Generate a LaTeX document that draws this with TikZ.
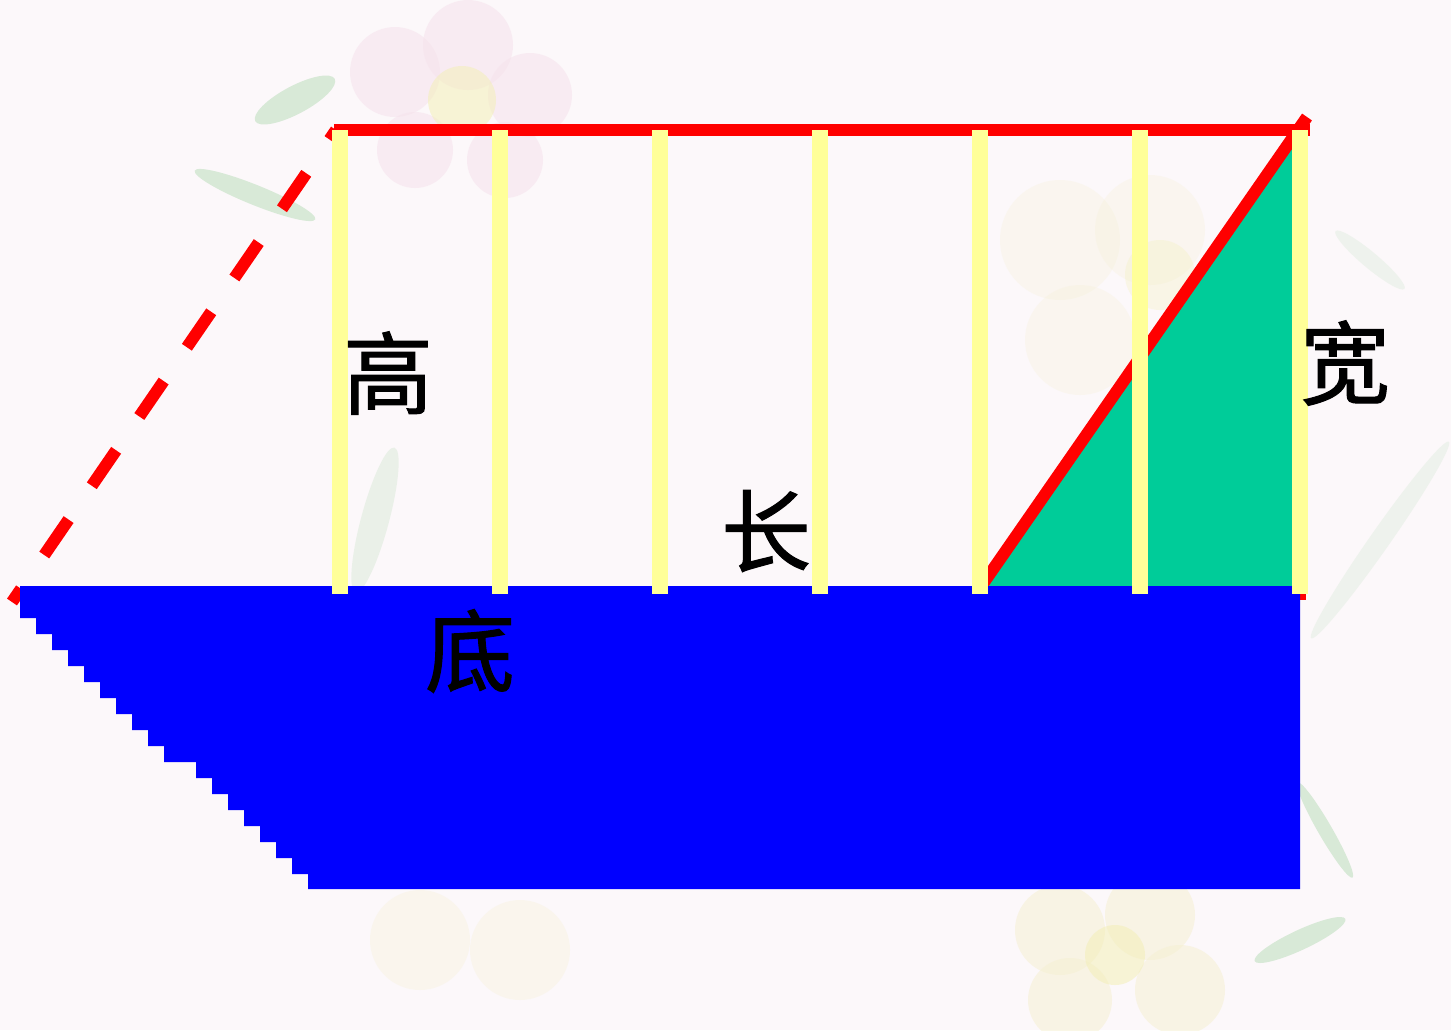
\documentclass[tikz,border=0pt]{standalone}
\usepackage{fontspec}
\newfontfamily\cjk[FakeBold=1.2]{Noto Sans CJK SC}
\definecolor{bgcol}{HTML}{FCF8FA}
\definecolor{barY}{HTML}{FFFF99}
\definecolor{triG}{HTML}{00CC99}
\definecolor{petalPink}{HTML}{F6E2EC}
\definecolor{petalYel}{HTML}{F6F0D2}
\definecolor{centerYel}{HTML}{F3EFB8}
\definecolor{leafG}{HTML}{CFE6CF}
\begin{document}
\begin{tikzpicture}[x=0.5pt,y=-0.5pt,
  yellowbar/.style={draw=barY,line width=8pt},
  redline/.style={draw=red,line width=6pt},
  cjklabel/.style={inner sep=0pt,font=\cjk\fontsize{45pt}{45pt}\selectfont},
  petal/.style={fill=#1,draw=none},
  leaf/.style={fill=leafG,draw=none,fill opacity=0.8}]
% background
\fill[bgcol] (0,0) rectangle (1451,1030);
\useasboundingbox (0,0) rectangle (1451,1030);
% faint flowers (background decoration)
\begin{scope}[fill opacity=0.55]
  \fill[petal=petalPink] (395,72) circle (45);
  \fill[petal=petalPink] (468,45) circle (45);
  \fill[petal=petalPink] (530,95) circle (42);
  \fill[petal=petalPink] (505,160) circle (38);
  \fill[petal=petalPink] (415,150) circle (38);
  \fill[petal=centerYel] (462,100) circle (34);
  \fill[leaf,rotate around={28:(295,100)}] (295,100) ellipse (45 and 14);
  \fill[leaf,rotate around={-22:(255,195)}] (255,195) ellipse (65 and 10);
  \fill[leaf,opacity=0.4,rotate around={75:(375,520)}] (375,520) ellipse (75 and 14);
  % right middle, very faint
  \fill[petal=petalYel,opacity=0.25] (1060,240) circle (60);
  \fill[petal=petalYel,opacity=0.25] (1150,230) circle (55);
  \fill[petal=petalYel,opacity=0.25] (1080,340) circle (55);
  \fill[petal=centerYel,opacity=0.3] (1160,275) circle (35);
  \fill[leaf,opacity=0.3,rotate around={55:(1380,540)}] (1380,540) ellipse (120 and 10);
  \fill[leaf,opacity=0.3,rotate around={-40:(1370,260)}] (1370,260) ellipse (45 and 8);
  % bottom left faint
  \fill[petal=petalYel,opacity=0.3] (420,940) circle (50);
  \fill[petal=petalYel,opacity=0.3] (520,950) circle (50);
  % bottom right
  \fill[petal=petalYel] (1060,930) circle (45);
  \fill[petal=petalYel] (1150,915) circle (45);
  \fill[petal=petalYel] (1180,990) circle (45);
  \fill[petal=petalYel] (1070,1000) circle (42);
  \fill[petal=centerYel] (1115,955) circle (30);
  \fill[leaf,rotate around={25:(1300,940)}] (1300,940) ellipse (50 and 10);
  \fill[leaf,rotate around={-60:(1325,830)}] (1325,830) ellipse (55 and 7);
\end{scope}
% key points
\coordinate (tl) at (336,130);
\coordinate (tr) at (1310,130);
\coordinate (bl) at (12,602);
\coordinate (dg0) at (980,588);
\coordinate (dg1) at (1307,117);
% red base line (mostly hidden under the blue)
\draw[redline] (20,594) -- (1306,594);
% green triangle
\fill[triG] (981,586) -- (1304,130) -- (1304,586) -- cycle;
% dashed red slant
\draw[redline,dash pattern=on 21.5pt off 20.5pt,dash phase=13.5pt] (bl) -- (tl);
% red top line and red diagonal
\draw[redline] (334,130) -- (tr);
\draw[redline] (dg0) -- (dg1);
% blue stepped shape
\fill[blue] (1300,586) -- (20,586) -- (20,618) -- (36,618) -- (36,634) -- (52,634)
  -- (52,650) -- (68,650) -- (68,666) -- (84,666) -- (84,682) -- (100,682)
  -- (100,698) -- (116,698) -- (116,714) -- (132,714) -- (132,730) -- (148,730)
  -- (148,746) -- (164,746) -- (164,762) -- (196,762) -- (196,778) -- (212,778)
  -- (212,794) -- (228,794) -- (228,810) -- (244,810) -- (244,826) -- (260,826)
  -- (260,842) -- (276,842) -- (276,858) -- (292,858) -- (292,874) -- (308,874)
  -- (308,889) -- (1300,889) -- cycle;
% yellow bars
\foreach \x in {340,500,660,820,980,1140,1300}
  \draw[yellowbar] (\x,130) -- (\x,594);
% labels
\node[cjklabel] (gao) at (388,373) {高};
\node[cjklabel] (di) at (470,651) {底};
\node[cjklabel] (chang) at (766,531) {长};
\node[cjklabel] (kuan) at (1345,363) {宽};
\end{tikzpicture}
\end{document}
